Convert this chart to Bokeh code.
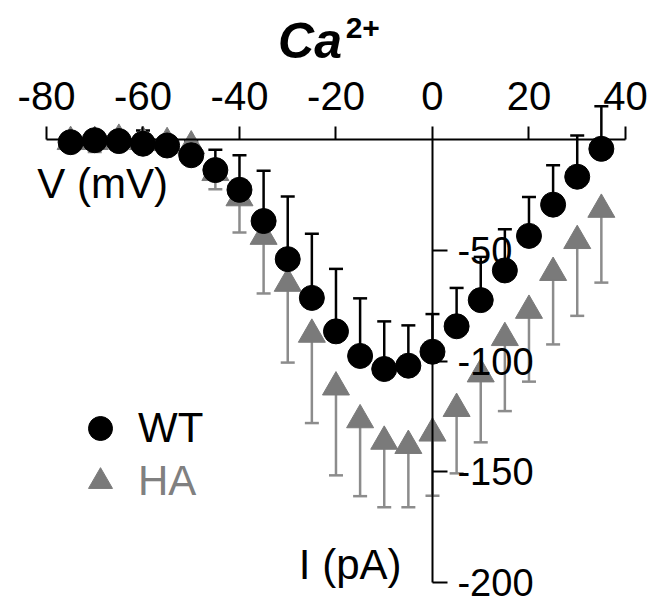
from bokeh.plotting import figure
from bokeh.models import (ColumnDataSource, LinearAxis, FixedTicker, Whisker, TeeHead,
                          Label, Legend, LegendItem, Range1d, PrintfTickFormatter)
from bokeh.embed import file_html
from bokeh.resources import INLINE

# ---- data ----
voltage = [-75, -70, -65, -60, -55, -50, -45, -40, -35, -30, -25, -20,
           -15, -10, -5, 0, 5, 10, 15, 20, 25, 30, 35]
wt_mean = [-1.2, -0.3, -0.7, -1.9, -2.7, -7.1, -13.8, -22.7, -36.8, -54.0, -71.5, -86.6,
           -97.7, -103.6, -102.1, -95.8, -84.3, -72.5, -59.1, -43.5, -29.4, -16.8, -4.2]
wt_err = [1.0, 1.0, 1.0, 6.0, 1.5, 6.5, 9.2, 15.6, 22.7, 28.3, 29.0, 28.2,
          26.0, 21.5, 18.2, 17.0, 17.3, 19.5, 18.6, 17.5, 17.8, 18.6, 19.2]
ha_mean = [-1.0, -1.0, 0.0, -1.0, -1.5, -3.0, -15.0, -26.4, -43.8, -65.0, -88.0, -111.8,
           -126.6, -136.3, -138.2, -132.6, -121.5, -105.9, -89.5, -77.2, -60.1, -45.7, -31.6]
ha_err = [2.0, 4.6, 1.0, 1.0, 1.0, 2.0, 7.4, 15.6, 25.7, 35.7, 40.0, 39.8,
          34.4, 29.7, 27.8, 28.2, 29.2, 30.8, 33.1, 32.1, 32.4, 33.9, 33.0]

x_ticks = [-80, -60, -40, -20, 0, 20, 40]
y_ticks = [-200, -150, -100, -50]
title_main = "Ca"
title_sup = "2+"
x_label = "V (mV)"
y_label = "I (pA)"
series_names = ["WT", "HA"]

FONT = "Liberation Sans"
GRAY = "#7a7a7a"
GRAY_BAR = "#8c8c8c"
GRAY_TEXT = "#808080"

wt_src = ColumnDataSource(dict(
    v=voltage, m=wt_mean,
    up=[m + e for m, e in zip(wt_mean, wt_err)]))
ha_src = ColumnDataSource(dict(
    v=voltage, m=ha_mean,
    lo=[m - e for m, e in zip(ha_mean, ha_err)]))

W, H = 652, 604
p = figure(width=W, height=H, output_backend="svg", toolbar_location=None,
           x_axis_location=None, y_axis_location=None,
           x_range=Range1d(-89.53, 45.6), y_range=Range1d(-209.9, 62.75),
           min_border=0, outline_line_color=None)
p.grid.visible = False
p.background_fill_color = "white"
p.border_fill_color = "white"

# x axis at I = 0, labels above
xax = LinearAxis(fixed_location=0, bounds=(-80, 40),
                 ticker=FixedTicker(ticks=x_ticks),
                 formatter=PrintfTickFormatter(format="%d"))
xax.major_tick_out = 13
xax.major_tick_in = 0
xax.minor_tick_out = 0
xax.minor_tick_in = 0
xax.major_label_standoff = 17
xax.major_label_text_font = FONT
xax.major_label_text_font_size = "40px"
xax.major_label_text_color = "black"
xax.axis_line_width = 2
xax.major_tick_line_width = 2
xax.axis_line_color = "black"
p.add_layout(xax, "above")

# y axis at V = 0, labels to the right
yax = LinearAxis(fixed_location=0, bounds=(-200, 0),
                 ticker=FixedTicker(ticks=y_ticks),
                 formatter=PrintfTickFormatter(format="%d"))
yax.major_tick_out = 15
yax.major_tick_in = 0
yax.minor_tick_out = 0
yax.minor_tick_in = 0
yax.major_label_standoff = 10
yax.major_label_text_font = FONT
yax.major_label_text_font_size = "38px"
yax.major_label_text_color = "black"
yax.axis_line_width = 2
yax.major_tick_line_width = 2
p.add_layout(yax, "right")

# HA error bars (downward) and markers
p.add_layout(Whisker(source=ha_src, base="v", upper="m", lower="lo", dimension="height",
                     line_color=GRAY_BAR, line_width=2.5,
                     upper_head=None,
                     lower_head=TeeHead(size=14, line_color=GRAY_BAR, line_width=2.5)))
r_ha = p.scatter("v", "m", source=ha_src, marker="triangle", size=27,
                 fill_color=GRAY, line_color=GRAY)

# WT error bars (upward) and markers
p.add_layout(Whisker(source=wt_src, base="v", upper="up", lower="m", dimension="height",
                     line_color="black", line_width=2.5,
                     lower_head=None,
                     upper_head=TeeHead(size=14, line_color="black", line_width=2.5)))
r_wt = p.scatter("v", "m", source=wt_src, marker="circle", size=25,
                 fill_color="black", line_color="black")

# texts
p.add_layout(Label(x=-32.0, y=44.5, text=title_main, text_font=FONT,
                   text_font_size="50px", text_font_style="bold italic",
                   text_align="left", text_baseline="alphabetic", text_color="black"))
p.add_layout(Label(x=-18.0, y=50.5, text=title_sup, text_font=FONT,
                   text_font_size="30px", text_font_style="bold",
                   text_align="left", text_baseline="alphabetic", text_color="black"))
p.add_layout(Label(x=-81.9, y=-20.0, text=x_label, text_font=FONT,
                   text_font_size="42px", text_align="left", text_baseline="middle",
                   text_color="black"))
p.add_layout(Label(x=-27.7, y=-192.0, text=y_label, text_font=FONT,
                   text_font_size="42px", text_align="left", text_baseline="middle",
                   text_color="black"))

common = dict(orientation="vertical", glyph_width=62, glyph_height=60, label_height=60,
              label_standoff=7, spacing=0, padding=0, margin=0,
              border_line_color=None, background_fill_alpha=0,
              label_text_font=FONT, label_text_font_size="42px",
              label_text_baseline="middle")
leg_wt = Legend(items=[LegendItem(label=series_names[0], renderers=[r_wt])],
                location=(69, 146), label_text_color="black", **common)
leg_ha = Legend(items=[LegendItem(label=series_names[1], renderers=[r_ha])],
                location=(69, 93), label_text_color=GRAY_TEXT, **common)
p.add_layout(leg_wt)
p.add_layout(leg_ha)

open("out.html", "w").write(file_html(p, INLINE))
